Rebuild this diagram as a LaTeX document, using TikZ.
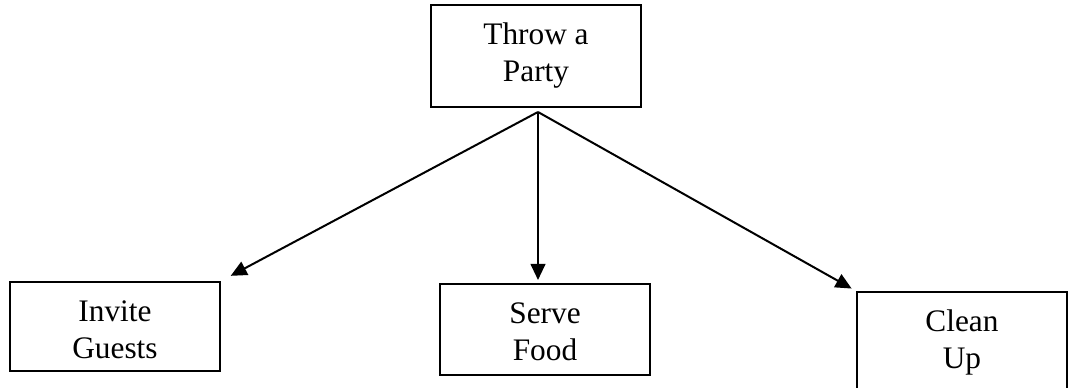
\documentclass[tikz,border=0pt]{standalone}
\usepackage{fontspec}
\setmainfont{Liberation Serif}
\usetikzlibrary{arrows.meta}
\usetikzlibrary{calc}

\begin{document}
\begin{tikzpicture}[x=0.75pt,y=0.75pt,yscale=-1,xscale=1,
  boxnode/.style={draw,line width=1.5pt,minimum width=157.5pt,inner sep=0pt},
  boxtext/.style={anchor=north,inner sep=0pt,align=center,font=\fontsize{23.5}{27.75}\selectfont},
  arrowline/.style={line width=1.5pt,-{Triangle[length=12pt,width=11pt]}}]
\useasboundingbox (0,0) rectangle (1068,388);

%Shape: Rectangle [party]
\node [boxnode,minimum height=76.5pt] (party) at (536,56) {};
%Shape: Rectangle [guests]
\node [boxnode,minimum height=66.75pt] (guests) at (115,326.5) {};
%Shape: Rectangle [food]
\node [boxnode,minimum height=68.25pt] (food) at (545,329.5) {};
%Shape: Rectangle [clean]
\node [boxnode,minimum height=75pt] (clean) at (962,342) {};

% Text Node
\node [boxtext] (party-text) at ($(party.north)+(0,14)$) {\strut Throw a\\Party};
% Text Node
\node [boxtext] (guests-text) at ($(guests.north)+(0,14)$) {\strut Invite\\Guests};
% Text Node
\node [boxtext] (food-text) at ($(food.north)+(0,14)$) {\strut Serve\\Food};
% Text Node
\node [boxtext] (clean-text) at ($(clean.north)+(0,14)$) {\strut Clean\\Up};

%Straight Lines [fork]
\coordinate (fork) at (538,112);
\draw [arrowline,shorten >=8.25pt] (fork) -- (guests.north east);
\draw [arrowline,shorten >=2.25pt] (fork) -- (fork |- food.north);
\draw [arrowline,shorten >=3.75pt] (fork) -- (clean.north west);

\end{tikzpicture}
\end{document}
